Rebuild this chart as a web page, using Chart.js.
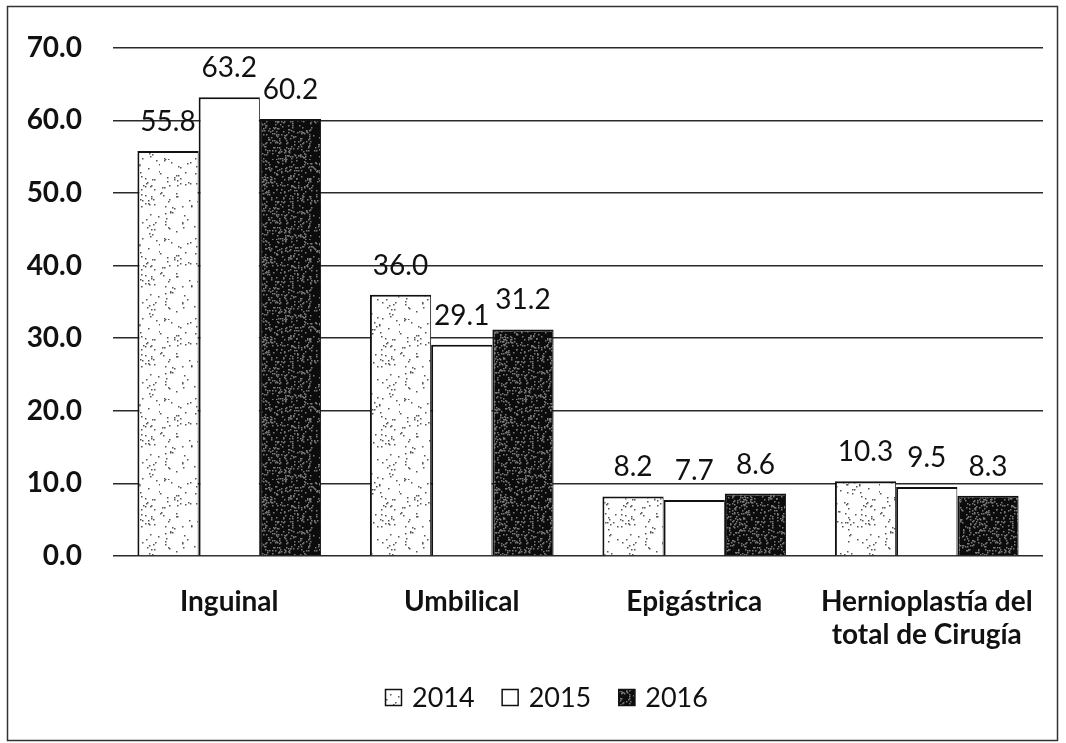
<!DOCTYPE html>
<html>
<head>
<meta charset="utf-8">
<script src="https://cdn.jsdelivr.net/npm/chart.js@4.4.0/dist/chart.umd.min.js"></script>
<style>
  html, body { margin: 0; padding: 0; background: #fff; }
  #wrap { width: 1066px; height: 743px; }
</style>
</head>
<body>
<div id="wrap"><canvas id="herniaChart"></canvas></div>
<script>
// data
const categories = ["Inguinal", "Umbilical", "Epigástrica", ["Hernioplastía del", "total de Cirugía"]];
const years = ["2014", "2015", "2016"];
const values2014 = [55.8, 36.0, 8.2, 10.3];
const values2015 = [63.2, 29.1, 7.7, 9.5];
const values2016 = [60.2, 31.2, 8.6, 8.3];
const yTicks = [0, 10, 20, 30, 40, 50, 60, 70];

// stippled fill (deterministic, only for texture)
function stipple(bg, dot, count, seed) {
  const c = document.createElement("canvas");
  c.width = 80;
  c.height = 80;
  const g = c.getContext("2d");
  g.fillStyle = bg;
  g.fillRect(0, 0, 80, 80);
  let s = seed;
  function rnd() {
    s = (s * 1103515245 + 12345) % 2147483648;
    return s / 2147483648;
  }
  g.fillStyle = dot;
  for (let i = 0; i < count; i++) {
    g.fillRect(Math.floor(rnd() * 80), Math.floor(rnd() * 80), 1.5, 1.5);
  }
  return g.createPattern(c, "repeat");
}

const fill2014 = stipple("#ffffff", "#555555", 150, 7);
const fill2015 = "#ffffff";
const fill2016 = stipple("#0c0c0c", "#7a7a7a", 600, 13);

const FONT = "Lato, 'Open Sans', sans-serif";

// frame around the whole chart
const framePlugin = {
  id: "frame",
  beforeDraw(chart) {
    const ctx = chart.ctx;
    ctx.save();
    ctx.fillStyle = "#fff";
    ctx.fillRect(0, 0, chart.width, chart.height);
    ctx.strokeStyle = "#333";
    ctx.lineWidth = 1.5;
    ctx.strokeRect(7.5, 6.5, chart.width - 16, chart.height - 9);
    ctx.restore();
  },
};

// value labels above the bars
const valueLabels = {
  id: "valueLabels",
  afterDatasetsDraw(chart) {
    const ctx = chart.ctx;
    ctx.save();
    ctx.font = "28px " + FONT;
    ctx.fillStyle = "#111";
    ctx.textAlign = "center";
    ctx.textBaseline = "alphabetic";
    chart.data.datasets.forEach((ds, i) => {
      chart.getDatasetMeta(i).data.forEach((bar, j) => {
        ctx.fillText(ds.data[j].toFixed(1), bar.x, bar.y - 20);
      });
    });
    ctx.restore();
  },
};

// legend row under the axis labels
const legendRow = {
  id: "legendRow",
  afterDraw(chart) {
    const ctx = chart.ctx;
    ctx.save();
    ctx.font = "27px " + FONT;
    ctx.textBaseline = "middle";
    ctx.textAlign = "left";
    const y = 698;
    let x = 385;
    chart.data.datasets.forEach((ds) => {
      ctx.fillStyle = ds.backgroundColor;
      ctx.fillRect(x, y - 9, 17, 17);
      ctx.strokeStyle = "#111";
      ctx.lineWidth = 1.5;
      ctx.strokeRect(x + 0.5, y - 8.5, 16, 16);
      ctx.fillStyle = "#111";
      ctx.fillText(ds.label, x + 27, y);
      x += 27 + ctx.measureText(ds.label).width + 27;
    });
    ctx.restore();
  },
};

const ctx = document.getElementById("herniaChart").getContext("2d");
new Chart(ctx, {
  type: "bar",
  data: {
    labels: categories,
    datasets: [
      { label: years[0], data: values2014, backgroundColor: fill2014 },
      { label: years[1], data: values2015, backgroundColor: fill2015 },
      { label: years[2], data: values2016, backgroundColor: fill2016 },
    ].map((d) => Object.assign(d, {
      borderColor: "#111",
      borderWidth: { top: 2, left: 2, right: 1, bottom: 0 },
      categoryPercentage: 0.79,
      barPercentage: 1.0,
    })),
  },
  options: {
    responsive: true,
    maintainAspectRatio: false,
    animation: false,
    layout: { padding: { left: 10, right: 23, top: 40, bottom: 87 } },
    plugins: {
      legend: { display: false },
      tooltip: { enabled: false },
    },
    scales: {
      y: {
        min: 0,
        max: 70,
        afterBuildTicks(axis) {
          axis.ticks = yTicks.map((v) => ({ value: v }));
        },
        afterFit(axis) {
          axis.width = 103;
        },
        ticks: {
          color: "#111",
          font: { family: FONT, size: 28, weight: "bold" },
          padding: 31,
          callback: (v) => Number(v).toFixed(1),
        },
        grid: { color: "#2a2a2a", lineWidth: 1.5, drawTicks: false },
        border: { display: false },
      },
      x: {
        afterFit(axis) {
          axis.height = 100;
        },
        ticks: {
          color: "#111",
          font: { family: FONT, size: 28, weight: "bold", lineHeight: 1.18 },
          padding: 21,
          maxRotation: 0,
        },
        grid: { display: false },
        border: { display: false },
      },
    },
  },
  plugins: [framePlugin, valueLabels, legendRow],
});
</script>
</body>
</html>
